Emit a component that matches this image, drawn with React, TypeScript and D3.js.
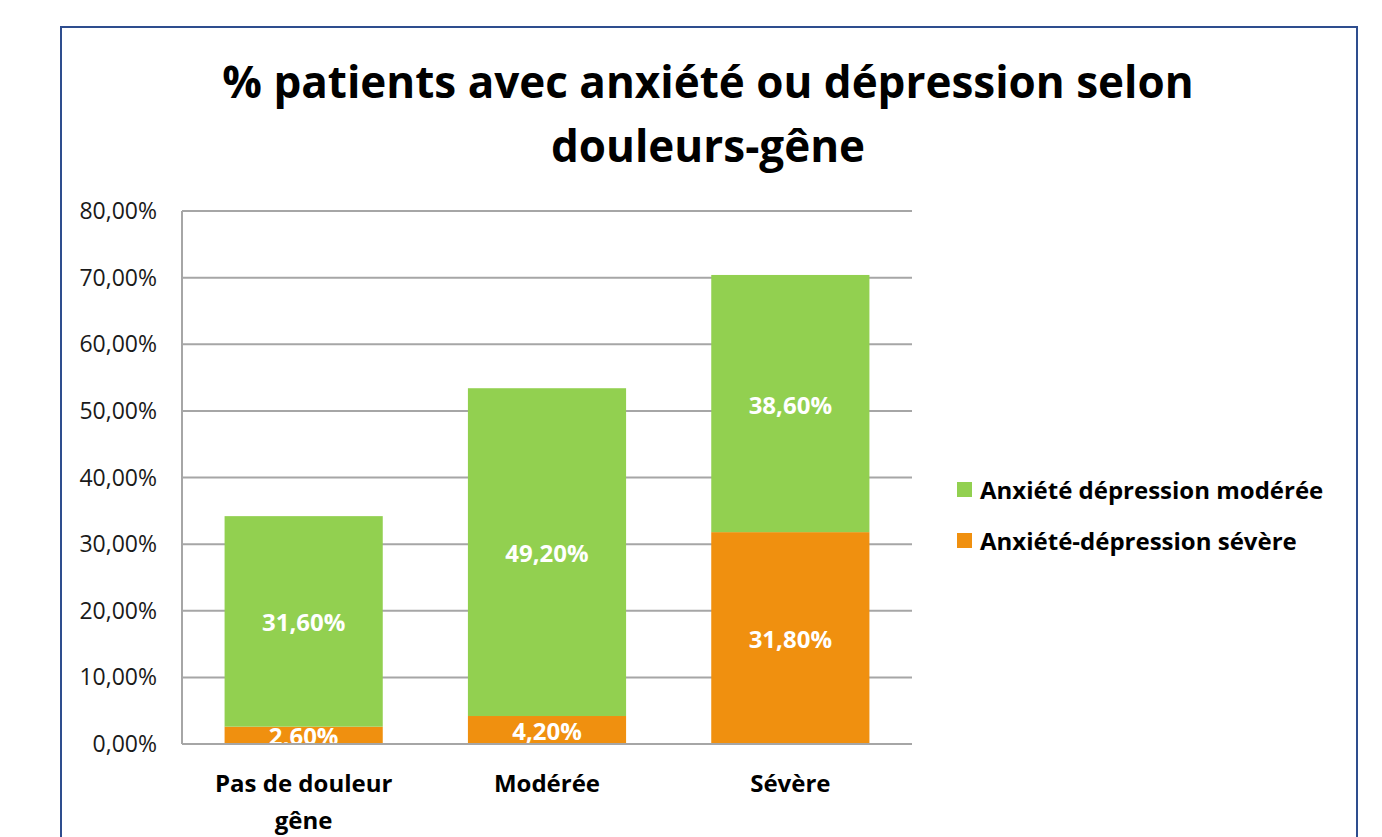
import * as d3 from "d3";

const categories = [["Pas de douleur", "gêne"], ["Modérée"], ["Sévère"]];
const severe = [2.6, 4.2, 31.8];
const moderate = [31.6, 49.2, 38.6];
const yTicks = [0, 10, 20, 30, 40, 50, 60, 70, 80];
const seriesNames = ["Anxiété dépression modérée", "Anxiété-dépression sévère"];
const colors = ["#92D050", "#F0900F"];

const font = "'Open Sans', sans-serif";

export default function App() {
  const width = 1382,
    height = 837;
  const plot = { left: 182, right: 912, top: 211, bottom: 744 };

  const x = d3
    .scaleBand()
    .domain(categories.map((c, i) => String(i)))
    .range([plot.left, plot.right])
    .paddingInner(0.35)
    .paddingOuter(0.175);

  const y = d3.scaleLinear().domain([0, 80]).range([plot.bottom, plot.top]);

  const fmt = (v: number) => v.toFixed(2).replace(".", ",") + "%";

  return (
    <svg
      width={width}
      height={height}
      style={{ position: "absolute", left: 0, top: 0, background: "#fff" }}
      fontFamily={font}
    >
      <rect x={61} y={27} width={1296} height={830} fill="#fff" stroke="#2E4D8E" strokeWidth={2} />

      <text x={708} y={98} textAnchor="middle" fontSize={44} fontWeight="bold" fill="#000">
        % patients avec anxiété ou dépression selon
      </text>
      <text x={708} y={162} textAnchor="middle" fontSize={44} fontWeight="bold" fill="#000">
        douleurs-gêne
      </text>

      {/* grid */}
      {yTicks.map((t) => (
        <g key={t}>
          <line x1={plot.left} x2={plot.right} y1={y(t)} y2={y(t)} stroke="#A6A6A6" strokeWidth={2} />
          <text x={157} y={y(t) + 8} textAnchor="end" fontSize={23} fill="#1a1a1a">
            {fmt(t)}
          </text>
        </g>
      ))}
      <line x1={plot.left} x2={plot.left} y1={plot.top} y2={plot.bottom} stroke="#A6A6A6" strokeWidth={2} />

      {/* bars */}
      {categories.map((c, i) => {
        const bx = x(String(i))!;
        const bw = x.bandwidth();
        const s0 = y(severe[i]);
        const m0 = y(severe[i] + moderate[i]);
        return (
          <g key={i}>
            <rect x={bx} y={s0} width={bw} height={plot.bottom - s0} fill={colors[1]} />
            <rect x={bx} y={m0} width={bw} height={s0 - m0} fill={colors[0]} />
            <text x={bx + bw / 2} y={(m0 + s0) / 2 + 10} textAnchor="middle" fontSize={24} fontWeight="bold" fill="#fff">
              {fmt(moderate[i])}
            </text>
            <text x={bx + bw / 2} y={(s0 + plot.bottom) / 2 + 10} textAnchor="middle" fontSize={24} fontWeight="bold" fill="#fff">
              {fmt(severe[i])}
            </text>
            {c.map((line, j) => (
              <text key={j} x={bx + bw / 2} y={792 + j * 37} textAnchor="middle" fontSize={24} fontWeight="bold" fill="#000">
                {line}
              </text>
            ))}
          </g>
        );
      })}
      <line x1={plot.left} x2={plot.right} y1={plot.bottom} y2={plot.bottom} stroke="#A6A6A6" strokeWidth={2} />

      {/* legend */}
      {seriesNames.map((n, i) => (
        <g key={n} transform={`translate(957, ${482 + i * 51})`}>
          <rect width={15} height={15} fill={colors[i]} />
          <text x={23} y={17} fontSize={24} fontWeight="bold" fill="#000">
            {n}
          </text>
        </g>
      ))}
    </svg>
  );
}
